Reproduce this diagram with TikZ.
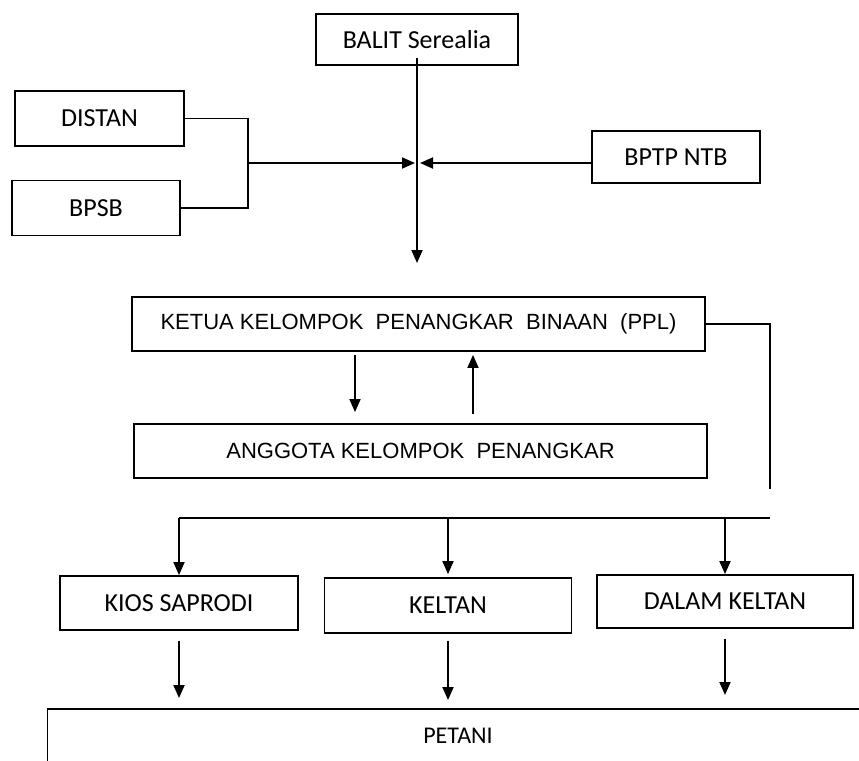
\documentclass[tikz,border=0pt]{standalone}
\usepackage{fontspec}
\setmainfont{Carlito}
\newfontfamily\arialfont{Liberation Sans}
\usetikzlibrary{arrows.meta}
\tikzset{
	box/.style={draw, line width=1.9pt, inner sep=0pt, font=\fontsize{26}{30}\selectfont},
	widebox/.style={box, font=\arialfont\fontsize{22}{26}\selectfont},
	arr/.style={-{Triangle[length=13pt,width=11pt]}},
}

\begin{document}
\begin{tikzpicture}[x=1pt, y=-1pt, line width=1.9pt]
		%%%%% START %%%%%
		\useasboundingbox (0,0) rectangle (859,760);
		
		% sources on top
		\node[box, minimum width=202pt, minimum height=51pt] (balit) at (417,39.5) {BALIT Serealia};
		\node[box, minimum width=169pt, minimum height=55pt] (distan) at (99.5,118.5) {DISTAN};
		\node[box, minimum width=168pt, minimum height=55pt] (bpsb) at (96,208) {BPSB};
		\node[box, minimum width=168pt, minimum height=52pt] (bptp) at (676,157) {BPTP NTB};
		
		\coordinate (join) at (248,163);
		\coordinate (hub) at (417,163);
		\coordinate (drop) at (417,263);
		\draw (distan.east) -| (join) |- (bpsb.east);
		\draw[arr] (join) -- ([xshift=-2pt]hub);
		\draw[arr] (bptp.west |- hub) -- ([xshift=3pt]hub);
		\draw[arr] ([yshift=8pt]balit.south) -- (drop);
		
		% kelompok penangkar
		\node[widebox, minimum width=573pt, minimum height=54pt] (ketua) at (418.5,324) {KETUA KELOMPOK\ \ PENANGKAR\ \ BINAAN\ \ (PPL)};
		\node[widebox, minimum width=573pt, minimum height=54pt] (anggota) at (420.5,451) {ANGGOTA KELOMPOK\ \ PENANGKAR};
		
		\draw[arr, shorten <=3pt, shorten >=11pt] ([xshift=-63.5pt]ketua.south) -- ([xshift=-63.5pt]ketua.south |- anggota.north);
		\draw[arr, shorten <=9pt, shorten >=3pt] ([xshift=54.5pt]ketua.south |- anggota.north) -- ([xshift=54.5pt]ketua.south);
		
		\coordinate (side) at (770,489);
		\draw (ketua.east) -| (side);
		
		% distribution
		\node[box, minimum width=238pt, minimum height=54pt] (kios) at (179,603) {KIOS SAPRODI};
		\node[box, minimum width=247pt, minimum height=55pt] (keltan) at (448,605.5) {KELTAN};
		\node[box, minimum width=256pt, minimum height=53pt] (dalam) at (725,601.5) {DALAM KELTAN};
		
		\coordinate (bus) at (770,518);
		\draw (kios.north |- bus) -- (bus);
		\draw[arr] (kios.north |- bus) -- (kios.north);
		\draw[arr, shorten >=3pt] (keltan.north |- bus) -- (keltan.north);
		\draw[arr] (dalam.north |- bus) -- (dalam.north);
		
		\node[box, anchor=north west, minimum width=840pt, minimum height=90pt] (petani) at (46.5,708) {};
		\node[font=\fontsize{24}{28}\selectfont] (petanilbl) at (458,736) {PETANI};
		
		\draw[arr, shorten <=10pt, shorten >=10pt] (kios.south) -- (kios.south |- petani.north);
		\draw[arr, shorten <=7pt, shorten >=8pt] (keltan.south) -- (keltan.south |- petani.north);
		\draw[arr, shorten <=10pt, shorten >=13pt] (dalam.south) -- (dalam.south |- petani.north);
		%%%%% END %%%%%
	\end{tikzpicture}
\end{document}
